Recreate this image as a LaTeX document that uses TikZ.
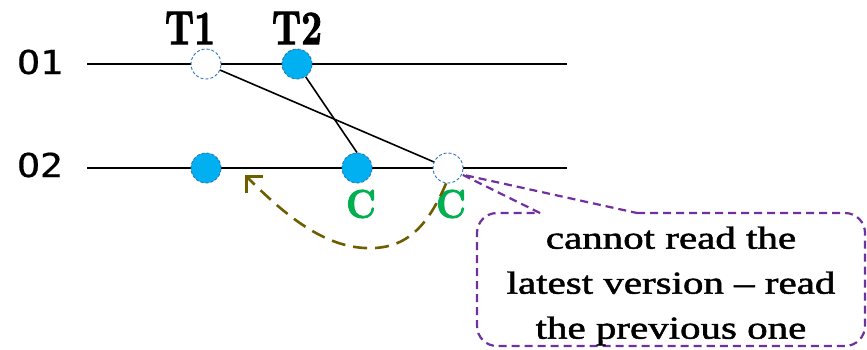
\documentclass[tikz,border=0pt]{standalone}
\usepackage{fontspec}
\newfontfamily\notefont[FakeBold=1.4]{Liberation Serif}
\newfontfamily\objfont[FakeBold=0.5]{DejaVu Sans Mono}
\newfontfamily\heavyfont[FakeBold=2.2]{lmroman10-bold.otf}
\usetikzlibrary{arrows.meta}
\definecolor{evblue}{HTML}{00B0F0}
\definecolor{evedge}{HTML}{2E75B6}
\definecolor{cgreen}{HTML}{00B050}
\definecolor{cpurple}{HTML}{7030A0}
\definecolor{colive}{HTML}{6E5E00}
\begin{document}
\begin{tikzpicture}[x=1pt,y=-1pt,
  tline/.style={line width=1.8pt,black},
  evbase/.style={circle,minimum size=30pt,inner sep=0pt,draw=evedge,dashed,dash pattern=on 3pt off 2pt,line width=0.9pt},
  evfull/.style={evbase,fill=evblue},
  evopen/.style={evbase,fill=white},
  objlabel/.style={inner sep=0pt,font=\objfont\fontsize{33}{33}\selectfont},
  txlabel/.style={inner sep=0pt,font=\heavyfont\fontsize{48}{48}\selectfont},
  clabel/.style={inner sep=0pt,text=cgreen,font=\heavyfont\fontsize{40}{40}\selectfont},
  conn/.style={line width=1.6pt,black},
  readarrow/.style={colive,line width=2.6pt,dash pattern=on 14pt off 8pt,-{Straight Barb[length=12pt,width=24pt,line width=2.6pt]}},
  callout/.style={cpurple,line width=2.2pt,dash pattern=on 8pt off 5pt}
]
\useasboundingbox (0,0) rectangle (867,349);
% object labels
\node[objlabel] (o1) at (40,62) {\scalebox{1.15}[1]{O1}};
\node[objlabel] (o2) at (40,165) {\scalebox{1.15}[1]{O2}};
% time lines
\coordinate (o1s) at (87,64);
\coordinate (o1e) at (567,64);
\coordinate (o2s) at (87,168);
\coordinate (o2e) at (567,168);
\draw[tline] (o1s) -- (o1e);
\draw[tline] (o2s) -- (o2e);
% events
\node[evopen] (t1) at (206,64) {};
\node[evfull] (t2) at (297,64) {};
\node[evfull] (a) at (206,168) {};
\node[evfull] (b) at (357,168) {};
\node[evopen] (c) at (448,168) {};
% transaction labels
\node[txlabel] (lt1) at (190,28) {\scalebox{0.76}[1]{T1}};
\node[txlabel] (lt2) at (297,28) {\scalebox{0.76}[1]{T2}};
% commit labels
\node[clabel] (cb) at (361,204) {\scalebox{0.9}[1]{C}};
\node[clabel] (cc) at (451,204) {\scalebox{0.9}[1]{C}};
% connectors
\draw[conn] (t1) -- (c);
\draw[conn] (t2) -- (b.north);
% read arrow
\coordinate (rtip) at (245,175);
\draw[readarrow] (c.-97) .. controls (427,228) and (405,250) .. (365,248)
  .. controls (320,246) and (280,210) .. (rtip);
% callout
\draw[callout,rounded corners=20pt] (637,213) -- (865,213) -- (865,346) -- (477,346) -- (477,213) -- (540,213);
\draw[callout] (540,213) -- (c.-25) -- (637,213);
\node[align=center,inner sep=0pt,font=\notefont\fontsize{32}{45}\selectfont] (note) at (671,286)
  {\scalebox{1.28}[1]{cannot read the}\\\scalebox{1.28}[1]{latest version – read}\\\scalebox{1.28}[1]{the previous one}};
\end{tikzpicture}
\end{document}
